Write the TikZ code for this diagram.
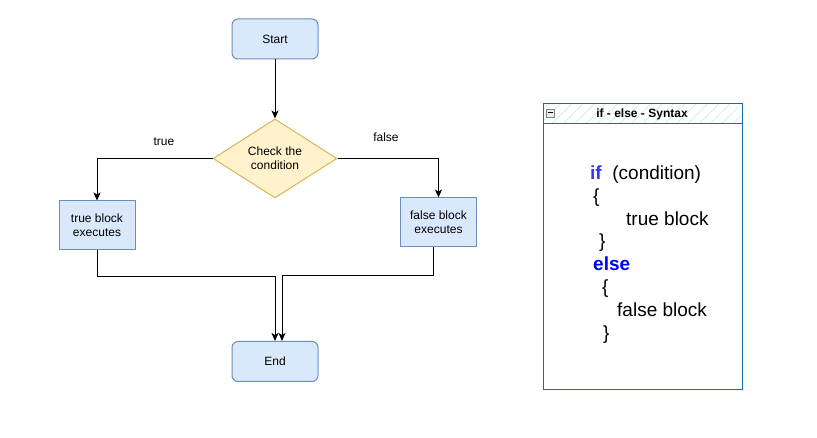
\documentclass[tikz,border=0pt]{standalone}
\usepackage{fontspec}
\setmainfont{Liberation Sans}
\usetikzlibrary{shapes.geometric,arrows.meta,patterns.meta}

\definecolor{procfill}{HTML}{DAE8FC}
\definecolor{procline}{HTML}{6C8EBF}
\definecolor{decfill}{HTML}{FFF2CC}
\definecolor{decline}{HTML}{D6B656}
\definecolor{panelline}{HTML}{10739E}
\definecolor{kwif}{HTML}{3333FF}
\definecolor{kwelse}{HTML}{0000FF}

\tikzset{
    flowfont/.style={font=\fontsize{12}{14}\selectfont},
    terminal/.style={draw=procline, fill=procfill, line width=1pt, rounded corners=6pt,
        minimum width=86pt, minimum height=40pt, flowfont},
    process/.style={draw=procline, fill=procfill, line width=1pt, align=center,
        minimum width=76pt, minimum height=49pt, flowfont},
    decision/.style={diamond, draw=decline, fill=decfill, line width=1pt, align=center,
        aspect=1.6, inner sep=0pt, minimum width=124pt, minimum height=79pt, flowfont},
    flow/.style={line width=1pt, -{Stealth[length=8pt, width=7pt, inset=2pt]}},
    codeline/.style={anchor=base west, inner sep=0pt, font=\fontsize{19}{22}\selectfont}
}

\begin{document}
\begin{tikzpicture}[x=1pt, y=-1pt]
    \useasboundingbox (0,0) rectangle (817,438);

    % Flowchart nodes
    \node[terminal] (start) at (275,39) {Start};
    \node[decision] (check) at (275,158.5) {Check the\\condition};
    \node[process] (trueblk) at (97,225.5) {true block\\executes};
    \node[process] (falseblk) at (438.5,222.5) {false block\\executes};
    \node[terminal] (stop) at (275,361.5) {End};

    % Connectors
    \draw[flow] (start) -- (check);
    \draw[flow] (check.west) -| node[pos=0.21, above=9pt, flowfont] {true} (trueblk.north);
    \draw[flow] (check.east) -| node[pos=0.24, above=13pt, flowfont] {false} (falseblk.north);
    \draw[flow] (trueblk.south) -- ++(0,26) -| (stop.north);
    \draw[flow] ([xshift=-5pt]falseblk.south) -- ++(0,28) -| ([xshift=7pt]stop.north);

    % Syntax panel
    \node[draw=panelline, line width=1pt, minimum width=199pt, minimum height=20pt, inner sep=0pt,
        pattern={Lines[angle=45, distance=8pt, line width=0.7pt]}, pattern color=panelline!18]
        (panelhead) at (642.5,114) {};
    \node[draw=panelline, line width=1pt, minimum width=199pt, minimum height=286pt, inner sep=0pt]
        (panel) at (642.5,247) {};
    \node[draw=gray, fill=gray!15, minimum size=8pt, inner sep=0pt] (collapse) at (550.5,113) {};
    \draw[line width=1pt] ([xshift=1.5pt]collapse.west) -- ([xshift=-1.5pt]collapse.east);
    \node[font=\bfseries\fontsize{12}{14}\selectfont] (paneltitle) at (642,114) {if - else - Syntax};

    % Syntax text
    \node[codeline] (ifline) at (590,180) {\textbf{\color{kwif}if}\ \ (condition)};
    \node[codeline] (open1) at (593,203) {\{};
    \node[codeline] (trueline) at (626,226) {true block};
    \node[codeline] (close1) at (599,248) {\}};
    \node[codeline] (elseline) at (593,271) {\textbf{\color{kwelse}else}};
    \node[codeline] (open2) at (602,294) {\{};
    \node[codeline] (falseline) at (617,317) {false block};
    \node[codeline] (close2) at (603,340) {\}};
\end{tikzpicture}
\end{document}
